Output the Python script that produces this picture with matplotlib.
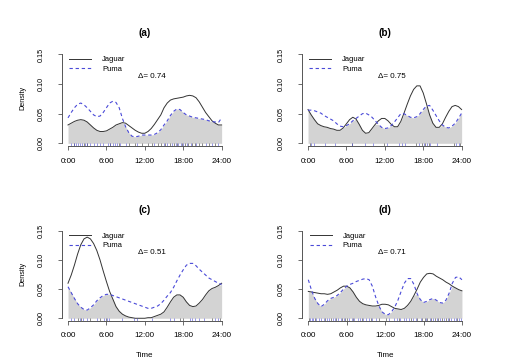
import numpy as np
import matplotlib
matplotlib.use("Agg")
from matplotlib import pyplot as plt

plt.rcParams['font.family'] = ['Liberation Sans', 'DejaVu Sans']

### Half-hourly density values (0:00 .. 24:00)
hours = np.arange(0, 24.5, 0.5)

jaguar_a = [0.031, 0.034, 0.037, 0.039, 0.040, 0.039, 0.036, 0.031, 0.026, 0.022, 0.020, 0.020, 0.021,
            0.024, 0.027, 0.031, 0.033, 0.035, 0.034, 0.030, 0.026, 0.022, 0.019, 0.017, 0.017, 0.020,
            0.025, 0.032, 0.040, 0.048, 0.060, 0.068, 0.073, 0.075, 0.076, 0.077, 0.078, 0.080, 0.081,
            0.080, 0.077, 0.070, 0.061, 0.052, 0.045, 0.038, 0.034, 0.031, 0.031]
puma_a = [0.043, 0.052, 0.060, 0.066, 0.068, 0.065, 0.060, 0.054, 0.048, 0.045, 0.046, 0.052, 0.060,
          0.068, 0.071, 0.069, 0.060, 0.042, 0.028, 0.018, 0.012, 0.011, 0.012, 0.014, 0.014, 0.014,
          0.014, 0.015, 0.018, 0.023, 0.031, 0.038, 0.047, 0.054, 0.058, 0.057, 0.052, 0.048, 0.046,
          0.044, 0.043, 0.042, 0.041, 0.040, 0.038, 0.037, 0.036, 0.035, 0.043]

jaguar_b = [0.057, 0.048, 0.040, 0.033, 0.030, 0.028, 0.027, 0.025, 0.024, 0.022, 0.022, 0.026, 0.033,
            0.040, 0.044, 0.041, 0.032, 0.022, 0.017, 0.018, 0.025, 0.032, 0.038, 0.042, 0.042, 0.038,
            0.032, 0.028, 0.028, 0.037, 0.051, 0.066, 0.080, 0.091, 0.097, 0.097, 0.085, 0.067, 0.048,
            0.034, 0.027, 0.027, 0.033, 0.044, 0.054, 0.062, 0.064, 0.062, 0.057]
puma_b = [0.056, 0.056, 0.055, 0.053, 0.051, 0.047, 0.044, 0.041, 0.038, 0.033, 0.029, 0.028, 0.030,
          0.033, 0.038, 0.042, 0.046, 0.050, 0.051, 0.048, 0.044, 0.038, 0.032, 0.027, 0.025, 0.026,
          0.030, 0.036, 0.043, 0.050, 0.050, 0.047, 0.044, 0.043, 0.045, 0.050, 0.057, 0.063, 0.064,
          0.056, 0.047, 0.038, 0.031, 0.027, 0.026, 0.029, 0.034, 0.042, 0.051]

jaguar_c = [0.060, 0.074, 0.091, 0.110, 0.126, 0.136, 0.139, 0.136, 0.128, 0.116, 0.100, 0.081, 0.063,
            0.046, 0.033, 0.020, 0.012, 0.007, 0.004, 0.002, 0.001, 0.000, 0.000, 0.000, 0.000, 0.001,
            0.001, 0.003, 0.005, 0.007, 0.011, 0.019, 0.028, 0.036, 0.040, 0.040, 0.036, 0.028, 0.022,
            0.020, 0.021, 0.026, 0.032, 0.040, 0.047, 0.051, 0.053, 0.056, 0.060]
puma_c = [0.054, 0.044, 0.034, 0.025, 0.019, 0.015, 0.014, 0.018, 0.023, 0.030, 0.035, 0.039, 0.041,
          0.041, 0.039, 0.037, 0.035, 0.033, 0.031, 0.029, 0.027, 0.025, 0.023, 0.021, 0.019, 0.017,
          0.017, 0.019, 0.021, 0.025, 0.031, 0.038, 0.044, 0.053, 0.064, 0.074, 0.083, 0.091, 0.094,
          0.094, 0.090, 0.084, 0.079, 0.074, 0.069, 0.066, 0.063, 0.060, 0.058]

jaguar_d = [0.046, 0.045, 0.044, 0.043, 0.042, 0.042, 0.041, 0.042, 0.045, 0.048, 0.052, 0.055, 0.055,
            0.052, 0.045, 0.036, 0.029, 0.025, 0.023, 0.022, 0.021, 0.021, 0.022, 0.024, 0.024, 0.023,
            0.020, 0.017, 0.016, 0.015, 0.017, 0.022, 0.029, 0.039, 0.050, 0.062, 0.070, 0.076, 0.077,
            0.076, 0.072, 0.069, 0.066, 0.062, 0.059, 0.055, 0.052, 0.049, 0.047]
puma_d = [0.066, 0.048, 0.034, 0.025, 0.020, 0.024, 0.030, 0.034, 0.036, 0.039, 0.044, 0.050, 0.055,
          0.058, 0.060, 0.063, 0.065, 0.067, 0.068, 0.066, 0.055, 0.037, 0.022, 0.011, 0.007, 0.006,
          0.011, 0.019, 0.031, 0.046, 0.060, 0.068, 0.068, 0.058, 0.042, 0.032, 0.027, 0.029, 0.032,
          0.034, 0.031, 0.027, 0.026, 0.031, 0.043, 0.060, 0.070, 0.071, 0.066]

### Observation times (rug)
rug_jaguar_a = [1.0, 2.5, 3.0, 6.5, 8.0, 9.5, 10.5, 11.5, 12.5, 13.2, 14.0, 14.6, 15.2, 16.0, 16.5,
                17.0, 17.8, 18.3, 18.8, 19.3, 19.8, 20.4, 21.0, 22.0, 23.0]
rug_puma_a = [0.5, 1.0, 1.3, 1.6, 1.9, 2.2, 2.6, 3.0, 3.4, 4.0, 4.5, 5.0, 5.5, 6.2, 6.6, 7.0, 7.3, 7.7,
              8.2, 9.0, 10.8, 13.5, 15.0, 15.5, 16.2, 16.8, 17.2, 17.6, 18.0, 18.6, 19.2, 20.0, 21.5,
              22.5, 23.4]
rug_jaguar_b = [0.3, 6.8, 11.8, 16.8, 17.8, 18.3, 18.9, 22.8, 23.7]
rug_puma_b = [0.5, 1.0, 2.6, 4.2, 6.8, 8.9, 10.2, 12.3, 14.2, 14.7, 15.2, 17.3, 18.1, 18.6, 19.1, 20.2,
              23.1, 23.6]
rug_jaguar_c = [1.5, 2.0, 3.5, 5.0, 6.0, 17.5, 18.0, 22.5, 23.8]
rug_puma_c = [0.4, 0.9, 1.9, 2.4, 3.0, 4.5, 5.6, 6.1, 6.4, 8.4, 10.3, 10.8, 13.1, 16.0, 16.5, 19.1,
              19.4, 19.9, 20.4, 21.2, 23.0, 23.5]
rug_jaguar_d = [0.1, 1.0, 2.6, 3.5, 4.4, 5.3, 5.8, 6.1, 7.0, 8.4, 9.8, 11.0, 12.1, 14.1, 16.0, 17.0,
                17.8, 18.2, 18.6, 19.2, 19.8, 20.3, 20.9, 21.5, 22.0, 23.3]
rug_puma_d = [0.2, 0.5, 0.8, 1.2, 1.6, 2.0, 2.4, 2.9, 3.3, 3.8, 4.2, 4.7, 5.1, 5.6, 6.3, 6.8, 7.2, 7.7,
              8.1, 8.6, 9.0, 9.5, 10.0, 10.6, 12.6, 13.4, 13.9, 14.4, 14.9, 15.3, 15.8, 16.3, 16.8,
              17.6, 18.4, 19.0, 19.5, 20.1, 20.6, 21.2, 21.8, 22.3, 22.7, 23.1, 23.5, 23.9]

panel_titles = ['(a)', '(b)', '(c)', '(d)']
deltas = [0.74, 0.75, 0.51, 0.71]
x_ticks = [0, 6, 12, 18, 24]
x_ticklabels = ['0:00', '6:00', '12:00', '18:00', '24:00']
y_ticks = [0.00, 0.05, 0.10, 0.15]

panels = [
    (jaguar_a, puma_a, rug_jaguar_a, rug_puma_a),
    (jaguar_b, puma_b, rug_jaguar_b, rug_puma_b),
    (jaguar_c, puma_c, rug_jaguar_c, rug_puma_c),
    (jaguar_d, puma_d, rug_jaguar_d, rug_puma_d),
]

### Axes boxes in figure fractions (left, bottom, width, height)
boxes = [
    [0.1213, 0.5986, 0.3253, 0.2612],
    [0.5919, 0.5986, 0.3253, 0.2612],
    [0.1213, 0.1168, 0.3253, 0.2573],
    [0.5925, 0.1168, 0.3253, 0.2573],
]

axis_col = '#555555'
blue = '#4a4ad8'

fig = plt.figure(figsize=(5.10, 3.63), dpi=100)

for i, (jag, pum, rj, rp) in enumerate(panels):
    ax = fig.add_axes(boxes[i])
    jag = np.array(jag)
    pum = np.array(pum)

    ### overlap area
    ax.fill_between(hours, 0, np.minimum(jag, pum), color='#d3d3d3', linewidth=0)
    ax.plot(hours, jag, color='#333333', lw=0.7, label='Jaguar')
    ax.plot(hours, pum, color=blue, lw=0.8, ls=(0, (3, 2.5)), label='Puma')

    ### rug
    ax.vlines(rj, -0.004, 0.001, color='#333333', lw=0.4)
    ax.vlines(rp, -0.004, 0.001, color=blue, lw=0.4)

    ax.set_xlim(-0.96, 24.96)
    ax.set_ylim(-0.004, 0.156)

    for s in ['top', 'right']:
        ax.spines[s].set_visible(False)
    ax.spines['left'].set_bounds(0, 0.15)
    ax.spines['bottom'].set_bounds(0, 24)
    for s in ['left', 'bottom']:
        ax.spines[s].set_color(axis_col)
        ax.spines[s].set_linewidth(0.7)

    ax.set_xticks(x_ticks)
    ax.set_xticklabels(x_ticklabels)
    ax.set_yticks(y_ticks)
    ax.set_yticklabels([f'{v:.2f}' for v in y_ticks], rotation=90, va='center')
    ax.tick_params(axis='x', length=3, width=0.6, color=axis_col, pad=5.5, labelsize=5.8)
    ax.tick_params(axis='y', length=3, width=0.6, color=axis_col, pad=9.5, labelsize=5.2)

    ax.set_title(panel_titles[i], fontsize=7.2, fontweight='bold', pad=10.5)

    ax.legend(loc='upper left', bbox_to_anchor=(0.045, 0.945), frameon=False, fontsize=5.5,
              handlelength=2.9, handletextpad=1.4, labelspacing=0.3, borderpad=0, borderaxespad=0)
    ax.text(10.9, 0.112, f'\u0394= {deltas[i]:.2f}', fontsize=5.8, va='center', ha='left')

    if i % 2 == 0:
        ax.set_ylabel('Density', fontsize=5.2, labelpad=8)
    if i >= 2:
        ax.set_xlabel('Time', fontsize=5.8, labelpad=9)

fig.savefig('out.png', dpi=100)
